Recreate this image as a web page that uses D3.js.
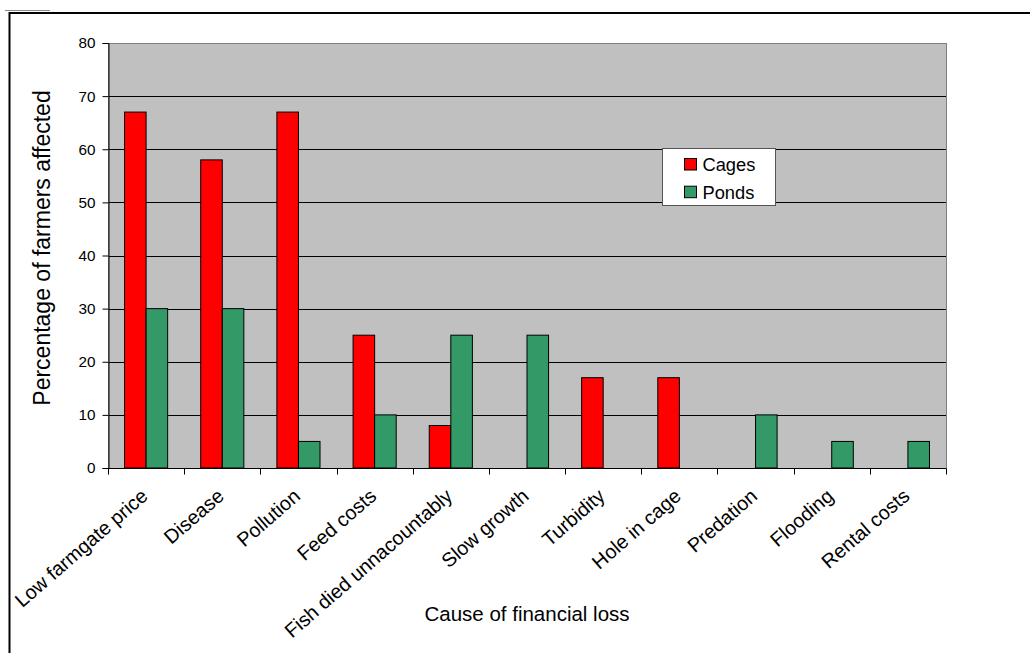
<!DOCTYPE html>
<html>
<head>
<meta charset="utf-8">
<script src="https://cdn.jsdelivr.net/npm/d3@7"></script>
<style>
  body { margin: 0; background: #fff; }
  text { font-family: "Liberation Sans", Arial, sans-serif; fill: #000; }
</style>
</head>
<body>
<script>
var w = 1030;
var h = 653;

// data
var categories = ["Low farmgate price", "Disease", "Pollution", "Feed costs",
    "Fish died unnacountably", "Slow growth", "Turbidity", "Hole in cage",
    "Predation", "Flooding", "Rental costs"];
var cages = [67, 58, 67, 25, 8, 0, 17, 17, 0, 0, 0];
var ponds = [30, 30, 5, 10, 25, 25, 0, 0, 10, 5, 5];
var seriesNames = ["Cages", "Ponds"];
var seriesColors = ["#ff0000", "#339966"];
var yTicks = [0, 10, 20, 30, 40, 50, 60, 70, 80];

var plot = { left: 108, right: 946, top: 43, bottom: 468 };

var svg = d3.select("body").append("svg")
    .attr("width", w)
    .attr("height", h);

// outer frame
svg.append("line").attr("x1", 5).attr("x2", 50).attr("y1", 10.5).attr("y2", 10.5)
    .attr("stroke", "#888").attr("stroke-width", 1);
svg.append("path")
    .attr("d", "M9.5," + h + "V13H" + w)
    .attr("fill", "none").attr("stroke", "#000").attr("stroke-width", 2);

var xScale = d3.scaleBand()
    .domain(categories)
    .range([plot.left, plot.right])
    .padding(0);

var yScale = d3.scaleLinear()
    .domain([0, 80])
    .range([plot.bottom, plot.top]);

// plot background
svg.append("rect")
    .attr("x", plot.left).attr("y", plot.top)
    .attr("width", plot.right - plot.left)
    .attr("height", plot.bottom - plot.top)
    .attr("fill", "#c0c0c0");

// gridlines
svg.append("g").selectAll("line")
    .data(yTicks.filter(function(d){ return d > 0 && d < 80; }))
    .enter().append("line")
    .attr("x1", plot.left).attr("x2", plot.right)
    .attr("y1", function(d){ return Math.round(yScale(d)) + 0.5; })
    .attr("y2", function(d){ return Math.round(yScale(d)) + 0.5; })
    .attr("stroke", "#000").attr("stroke-width", 1);

// plot border
svg.append("rect")
    .attr("x", plot.left + 0.5).attr("y", plot.top + 0.5)
    .attr("width", plot.right - plot.left)
    .attr("height", plot.bottom - plot.top)
    .attr("fill", "none").attr("stroke", "#808080");

// bars
var barW = xScale.bandwidth() * 0.283;
var sub = d3.scaleBand().domain(seriesNames).range([0, barW * 2]);
var allSeries = [cages, ponds];

allSeries.forEach(function(vals, s){
    var pts = vals.map(function(v, i){ return { cat: categories[i], v: v }; })
        .filter(function(d){ return d.v > 0; });
    svg.append("g").selectAll("rect")
        .data(pts)
        .enter().append("rect")
        .attr("x", function(d){
            return xScale(d.cat) + (xScale.bandwidth() - barW * 2) / 2 + sub(seriesNames[s]);
        })
        .attr("y", function(d){ return yScale(d.v); })
        .attr("width", barW)
        .attr("height", function(d){ return yScale(0) - yScale(d.v); })
        .attr("fill", seriesColors[s])
        .attr("stroke", "#000")
        .attr("stroke-width", 1);
});

// y axis
var yAxis = d3.axisLeft(yScale).tickValues(yTicks).tickSize(6).tickPadding(7);
var gy = svg.append("g")
    .attr("transform", "translate(" + (plot.left + 0.5) + ",0)")
    .call(yAxis);
gy.select(".domain").attr("stroke", "#000");
gy.selectAll("text").attr("font-family", null).attr("font-size", null)
    .style("font-size", "15.3px");
gy.attr("font-family", null).attr("font-size", null);

// x axis line
var xAxis = d3.axisBottom(xScale).tickSize(0).tickFormat("");
var gx = svg.append("g")
    .attr("transform", "translate(0," + (plot.bottom + 0.5) + ")")
    .call(xAxis);
gx.select(".domain").attr("d", "M" + plot.left + ",0H" + plot.right).attr("stroke", "#000");
gx.selectAll(".tick").remove();

// boundary tick marks
gx.selectAll("line.bt")
    .data(d3.range(categories.length + 1))
    .enter().append("line")
    .attr("class", "bt")
    .attr("x1", function(i){ return Math.round(plot.left + i * xScale.step()) + 0.5; })
    .attr("x2", function(i){ return Math.round(plot.left + i * xScale.step()) + 0.5; })
    .attr("y1", 0).attr("y2", 6)
    .attr("stroke", "#000");

// rotated category labels
svg.append("g").selectAll("text")
    .data(categories)
    .enter().append("text")
    .attr("transform", function(d){
        var x = xScale(d) + xScale.bandwidth() / 2 + 3;
        return "translate(" + x + "," + (plot.bottom + 30) + ") rotate(-41)";
    })
    .attr("text-anchor", "end")
    .style("font-size", "19.8px")
    .text(function(d){ return d; });

// axis titles
svg.append("text")
    .attr("x", 527)
    .attr("y", 621)
    .attr("text-anchor", "middle")
    .style("font-size", "20.5px")
    .text("Cause of financial loss");

svg.append("text")
    .attr("transform", "translate(50,248) rotate(-90)")
    .attr("text-anchor", "middle")
    .style("font-size", "23px")
    .text("Percentage of farmers affected");

// legend
var lg = svg.append("g").attr("transform", "translate(662.5,148.5)");
lg.append("rect").attr("width", 113).attr("height", 57)
    .attr("fill", "#fff").attr("stroke", "#555");
var items = lg.selectAll("g.item")
    .data(seriesNames)
    .enter().append("g")
    .attr("class", "item")
    .attr("transform", function(d, i){ return "translate(22," + (10 + i * 27.7) + ")"; });
items.append("rect").attr("width", 12).attr("height", 11.5)
    .attr("fill", function(d, i){ return seriesColors[i]; })
    .attr("stroke", "#000");
items.append("text").attr("x", 18).attr("y", 12.5)
    .style("font-size", "18.3px")
    .text(function(d){ return d; });
</script>
</body>
</html>
